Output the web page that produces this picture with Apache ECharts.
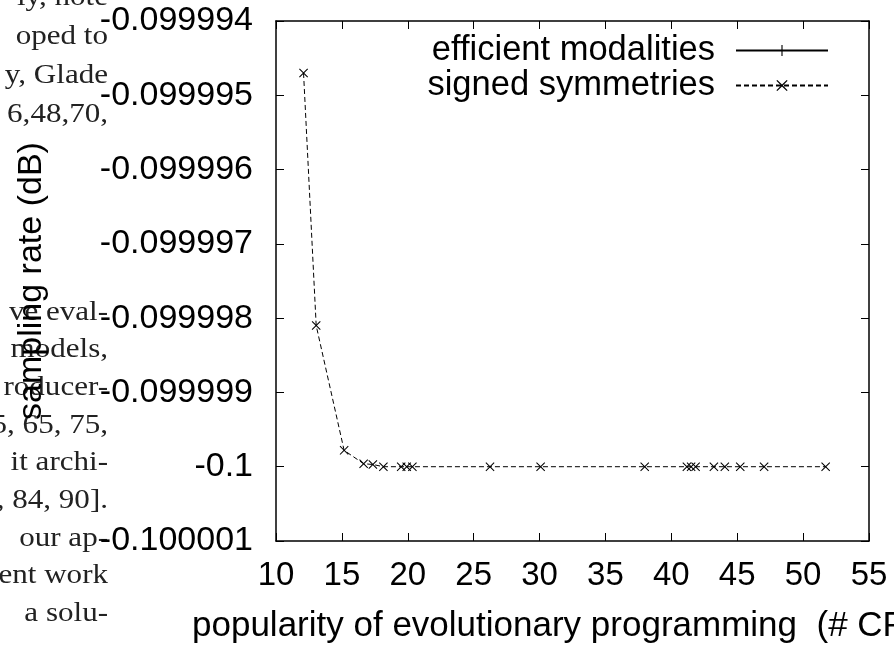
<!DOCTYPE html>
<html>
<head>
<meta charset="utf-8">
<script src="https://cdn.jsdelivr.net/npm/echarts@6/dist/echarts.min.js"></script>
<style>
  html, body { margin: 0; padding: 0; background: #fff; }
  #chart { width: 894px; height: 646px; }
</style>
</head>
<body>
<div id="chart"></div>
<script>
// popularity of evolutionary programming (# CPU cycles)
var xTicks = [10, 15, 20, 25, 30, 35, 40, 45, 50, 55];
// efficient modalities: nothing visible inside the plotted range
var effX = [];
var effY = [];
// signed symmetries
var sigX = [12.09, 13.05, 15.17, 16.65, 17.35, 18.15, 19.5, 19.92, 20.35, 26.24,
            30.08, 37.98, 41.18, 41.5, 41.84, 43.23, 44.06, 45.23, 47.04, 51.71];
var sigY = [-0.0999947, -0.0999981, -0.09999978, -0.09999996, -0.09999997, -0.1, -0.1, -0.1, -0.1, -0.1,
            -0.1, -0.1, -0.1, -0.1, -0.1, -0.1, -0.1, -0.1, -0.1, -0.1];
var yTicks = ['-0.099994', '-0.099995', '-0.099996', '-0.099997', '-0.099998', '-0.099999', '-0.1', '-0.100001'];

// surrounding paper text that shows in the crop
var paperTop = ['ly, note', 'oped to', 'y, Glade', '6,48,70,'];
var paperBottom = ['ve eval-', 'models,', 'roducer-', '5, 65, 75,', 'it archi-',
                   ', 84, 90].', 'our ap-', 'ent work', 'a solu-'];

var FONT = 'Liberation Sans, Arial, Helvetica, sans-serif';

var chart = echarts.init(document.getElementById('chart'));

function pairs(xs, ys) {
  return xs.map(function (x, i) { return [x, ys[i]]; });
}

var xMark = 'path://M0,0.8L0.8,0L5,4.2L9.2,0L10,0.8L5.8,5L10,9.2L9.2,10L5,5.8L0.8,10L0,9.2L4.2,5Z';
var plusMark = 'path://M4.5,0H5.5V4.5H10V5.5H5.5V10H4.5V5.5H0V4.5H4.5Z';

var graphics = [];
function paperLine(t, y) {
  graphics.push({
    type: 'text', x: 108, y: y, scaleX: 1.15,
    style: { text: t, font: '27px "Liberation Serif", serif', fill: '#222',
             textAlign: 'right', textVerticalAlign: 'bottom' },
    z: 0
  });
}
paperTop.forEach(function (t, i) { paperLine(t, 11 + i * 39); });
paperBottom.forEach(function (t, i) { paperLine(t, 326 + i * 37.7); });
graphics.push({
  type: 'text', x: 192, y: 626,
  style: { text: 'popularity of evolutionary programming  (# CPU cycles)',
           font: '35px ' + FONT, fill: '#000', textAlign: 'left', textVerticalAlign: 'middle' }
});

var frameAxis = {
  axisLine: { show: true, lineStyle: { color: '#000', width: 1.5 } },
  axisTick: { show: true, inside: true, length: 8, lineStyle: { color: '#000', width: 1 } },
  splitLine: { show: false }
};

var option = {
  animation: false,
  backgroundColor: '#fff',
  grid: { left: 276, right: 25, top: 21, bottom: 105 },
  legend: {
    orient: 'vertical',
    right: 60,
    top: 28,
    align: 'right',
    itemWidth: 92,
    itemHeight: 14,
    itemGap: 0,
    textStyle: { fontFamily: FONT, fontSize: 34.5, color: '#000', padding: [0, 16, 0, 0] },
    data: ['efficient modalities', 'signed symmetries']
  },
  xAxis: [
    Object.assign({
      type: 'value', position: 'bottom', min: 10, max: 55, interval: 5,
      axisLabel: { fontFamily: FONT, fontSize: 33, color: '#000', margin: 18,
                   formatter: function (v) { return xTicks.indexOf(v) >= 0 ? String(v) : ''; } }
    }, frameAxis),
    Object.assign({
      type: 'value', position: 'top', min: 10, max: 55, interval: 5,
      axisLabel: { show: false }
    }, frameAxis)
  ],
  yAxis: [
    Object.assign({
      type: 'value', position: 'left', min: -0.100001, max: -0.099994, interval: 0.000001,
      name: 'sampling rate (dB)', nameLocation: 'middle', nameGap: 227,
      nameTextStyle: { fontFamily: FONT, fontSize: 34, color: '#000' },
      axisLabel: { fontFamily: FONT, fontSize: 34, color: '#000', margin: 23,
                   formatter: function (v) { return parseFloat(v.toFixed(6)).toString(); } }
    }, frameAxis),
    Object.assign({
      type: 'value', position: 'right', min: -0.100001, max: -0.099994, interval: 0.000001,
      axisLabel: { show: false }
    }, frameAxis)
  ],
  graphic: graphics,
  series: [
    {
      name: 'efficient modalities', type: 'line',
      data: pairs(effX, effY),
      symbol: plusMark, symbolSize: 10,
      itemStyle: { color: '#000' },
      lineStyle: { color: '#000', width: 1, type: 'solid' }
    },
    {
      name: 'signed symmetries', type: 'line',
      data: pairs(sigX, sigY),
      symbol: xMark, symbolSize: 9,
      itemStyle: { color: '#000' },
      lineStyle: { color: '#000', width: 1, type: [5, 3] }
    }
  ]
};

chart.setOption(option);
</script>
</body>
</html>
